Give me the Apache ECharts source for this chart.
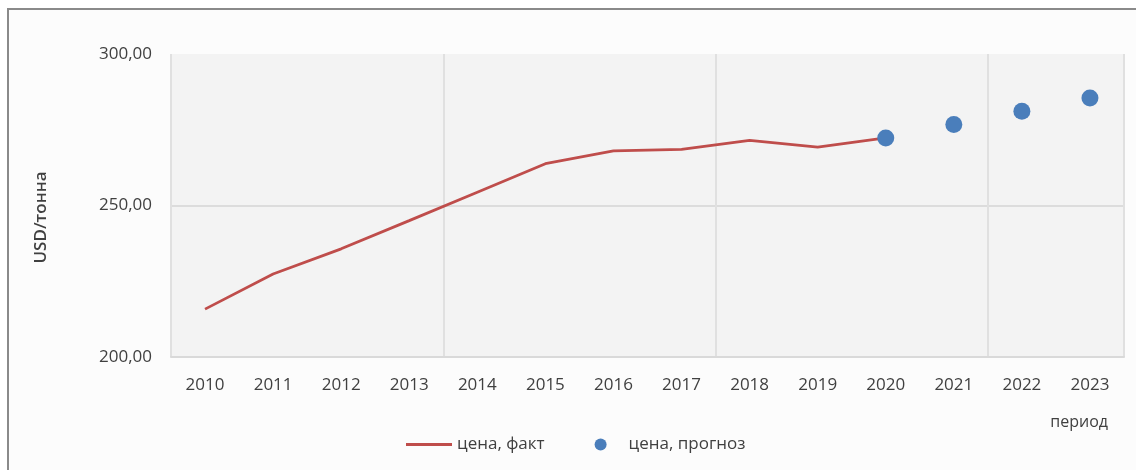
<!DOCTYPE html>
<html>
<head>
<meta charset="utf-8">
<script src="https://cdn.jsdelivr.net/npm/echarts@6/dist/echarts.min.js"></script>
<style>
  html, body { margin: 0; padding: 0; background: #ffffff; }
  #chart {
    position: absolute;
    left: 7px;
    top: 8px;
    width: 1129px;
    height: 462px;
    border-left: 2px solid #8a8a8a;
    border-top: 2px solid #8a8a8a;
    box-sizing: border-box;
  }
</style>
</head>
<body>
<div id="chart"></div>
<script>
// годы по оси X
const years = ['2010', '2011', '2012', '2013', '2014', '2015', '2016',
               '2017', '2018', '2019', '2020', '2021', '2022', '2023'];
// цена, факт (2010-2020)
const factPrices = [215.8, 227.4, 235.7, 245.0, 254.4, 263.8, 268.0,
                    268.5, 271.5, 269.3, 272.3];
// цена, прогноз (2020-2023)
const forecastYears = ['2020', '2021', '2022', '2023'];
const forecastPrices = [272.3, 276.7, 281.1, 285.5];
const yTicks = [200, 250, 300];

const factData = years.map((y, i) => i < factPrices.length ? factPrices[i] : '-');
const forecastData = years.map(y => {
  const k = forecastYears.indexOf(y);
  return k >= 0 ? forecastPrices[k] : '-';
});

const font = '"Open Sans", sans-serif';
const textColor = '#404040';

const myChart = echarts.init(document.getElementById('chart'));
myChart.setOption({
  backgroundColor: '#fcfcfc',
  animation: false,
  grid: {
    left: 162,
    right: 12,
    top: 44,
    bottom: 113,
    show: true,
    backgroundColor: '#f3f3f3',
    borderWidth: 0
  },
  legend: {
    left: 392,
    top: 421,
    itemWidth: 46,
    itemHeight: 12,
    itemGap: 50,
    textStyle: { fontFamily: font, fontSize: 17, color: textColor },
    data: [
      { name: 'цена, факт', icon: 'path://M0,0 L46,0 L46,3 L0,3 Z' },
      { name: 'цена, прогноз', icon: 'circle' }
    ]
  },
  xAxis: {
    type: 'category',
    data: years,
    boundaryGap: true,
    name: 'период',
    nameLocation: 'end',
    nameGap: -16,
    nameTextStyle: {
      fontFamily: font, fontSize: 16, color: textColor,
      align: 'right', verticalAlign: 'top', padding: [57, 0, 0, 0]
    },
    axisLine: { lineStyle: { color: '#d9d9d9', width: 2 } },
    axisTick: { show: false },
    axisLabel: { fontFamily: font, fontSize: 17, color: textColor, margin: 20 },
    splitLine: {
      show: true,
      interval: 3,
      lineStyle: { color: '#e0e0e0', width: 2 }
    }
  },
  yAxis: {
    type: 'value',
    min: yTicks[0],
    max: yTicks[yTicks.length - 1],
    interval: 50,
    name: 'USD/тонна',
    nameLocation: 'middle',
    nameGap: 121,
    nameTextStyle: {
      fontFamily: font, fontSize: 17, fontWeight: 600, color: textColor,
      padding: [0, 24, 0, 0]
    },
    axisLine: { show: false },
    axisTick: { show: false },
    axisLabel: {
      fontFamily: font, fontSize: 17, color: textColor, margin: 19,
      formatter: v => v.toFixed(2).replace('.', ',')
    },
    splitLine: {
      lineStyle: { color: ['#d9d9d9', '#dcdcdc', 'transparent'], width: 2 }
    }
  },
  series: [
    {
      name: 'цена, факт',
      type: 'line',
      data: factData,
      symbol: 'none',
      color: '#bf4d4b',
      lineStyle: { color: '#bf4d4b', width: 2.8 }
    },
    {
      name: 'цена, прогноз',
      type: 'scatter',
      data: forecastData,
      symbolSize: 17,
      color: '#4a7ebb',
      itemStyle: { opacity: 1 },
      z: 3
    }
  ]
});
</script>
</body>
</html>
